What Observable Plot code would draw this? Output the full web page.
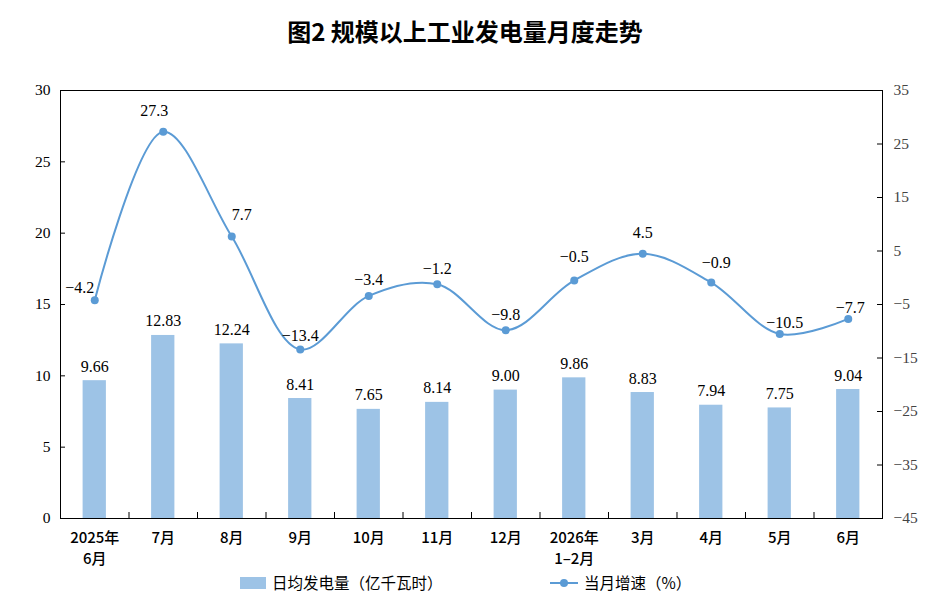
<!DOCTYPE html>
<html><head><meta charset="utf-8">
<script src="https://cdn.jsdelivr.net/npm/d3@7"></script>
<script src="https://cdn.jsdelivr.net/npm/@observablehq/plot@0.6"></script>
<style>
body{margin:0;background:#fff;width:945px;height:597px;overflow:hidden;position:relative;}
#title{position:absolute;left:0;top:13px;width:930px;text-align:center;font-family:"Noto Sans CJK SC",sans-serif;font-weight:bold;font-size:24px;line-height:36px;color:#000;}
#chart{position:absolute;left:0;top:60px;}
.lg{position:absolute;font-family:"Noto Sans CJK SC",sans-serif;font-size:15.5px;line-height:20px;color:#000;top:572px;}
.sw{position:absolute;}
</style></head>
<body>
<div id="title">图2 规模以上工业发电量月度走势</div>
<div id="chart"></div>
<div class="sw" style="left:240px;top:577px;width:26px;height:12px;background:#9dc3e6"></div>
<div class="lg" style="left:272px">日均发电量（亿千瓦时）</div>
<svg class="sw" style="left:548px;top:574px" width="32" height="18"><line x1="2" y1="9" x2="30" y2="9" stroke="#5b9bd5" stroke-width="2"/><circle cx="16" cy="9" r="4" fill="#5b9bd5"/></svg>
<div class="lg" style="left:584px">当月增速（%）</div>
<script>
const months = ["2025年\n6月","7月","8月","9月","10月","11月","12月","2026年\n1–2月","3月","4月","5月","6月"];
const dailyOutput = [9.66,12.83,12.24,8.41,7.65,8.14,9.00,9.86,8.83,7.94,7.75,9.04];
const growth = [-4.2,27.3,7.7,-13.4,-3.4,-1.2,-9.8,-0.5,4.5,-0.9,-10.5,-7.7];
const leftTicks = [0,5,10,15,20,25,30];
const rightTicks = [35,25,15,5,-5,-15,-25,-35,-45];
const rightDomain = [-45,35];

// label nudges (layout only)
const growthLabelNudge = [[-15,-12],[-9,-21],[10,-22],[0,-14],[0,-16],[0,-15],[0,-15],[0,-24],[0,-21],[5,-20],[5,-11],[2,-11]];

const W=945, H=510, ML=60, MR=63, MT=30, MB=52;
const innerW = W-ML-MR, innerH = H-MT-MB;
const step = innerW/months.length;
const g2y = v => (v - rightDomain[0]) * 30 / (rightDomain[1]-rightDomain[0]);
const y2g = y => Math.round(y * (rightDomain[1]-rightDomain[0]) / 30 + rightDomain[0]);
const minus = s => s.replace("-", "−");

const barData = months.map((m,i)=>({m, v: dailyOutput[i]}));
const lineData = months.map((m,i)=>({m, g: growth[i], y: g2y(growth[i])}));

const lineLabels = lineData.map((d,i)=>Plot.text([d], {
  x:"m", y:"y", text: d=>minus(d.g.toFixed(1)),
  dx: growthLabelNudge[i][0], dy: growthLabelNudge[i][1], fontSize:16, fill:"#000"
}));

const chart = Plot.plot({
  width: W, height: H, marginLeft: ML, marginRight: MR, marginTop: MT, marginBottom: MB,
  style: {fontFamily: "'Liberation Serif', serif", fontSize: "15px", color: "#000", background: "#fff", overflow: "visible"},
  x: {domain: months, paddingInner: 0.66, paddingOuter: 0.33, round: false, axis: null},
  y: {domain: [0,30], axis: null},
  marks: [
    Plot.barY(barData, {x:"m", y:"v", fill:"#9dc3e6"}),
    Plot.text(barData, {x:"m", y:"v", text: d=>d.v.toFixed(2), lineAnchor:"bottom", dy:-9, fontSize:16, fill:"#000"}),
    Plot.line(lineData, {x:"m", y:"y", stroke:"#5b9bd5", strokeWidth:2, curve:"catmull-rom"}),
    Plot.dot(lineData, {x:"m", y:"y", r:4, fill:"#5b9bd5"}),
    ...lineLabels,
    Plot.frame({stroke:"#000", strokeWidth:1}),
    Plot.axisY(leftTicks, {anchor:"left", label:null, tickSize:0, tickPadding:10, fontSize:15.5, fill:"#000"}),
    Plot.tickY(leftTicks, {y: d=>d, insetRight: innerW-5, stroke:"#000"}),
    Plot.axisY(rightTicks.map(g2y), {anchor:"right", label:null, tickSize:0, tickPadding:11, fontSize:15.5, fill:"#444", tickFormat: y => minus(String(y2g(y)))}),
    Plot.tickY(rightTicks.map(g2y), {y: d=>d, insetLeft: innerW-5, stroke:"#000"}),
    Plot.axisX({anchor:"bottom", label:null, tickSize:0, tickPadding:10, fontSize:15, lineHeight:1.4, fontFamily:"'Noto Sans CJK SC', sans-serif", fontWeight:500, fill:"#000"}),
    Plot.tickX(months.slice(0,-1), {x: d=>d, dx: step/2, insetTop: innerH-6, stroke:"#000"})
  ]
});
document.getElementById("chart").appendChild(chart);
</script>
</body></html>
